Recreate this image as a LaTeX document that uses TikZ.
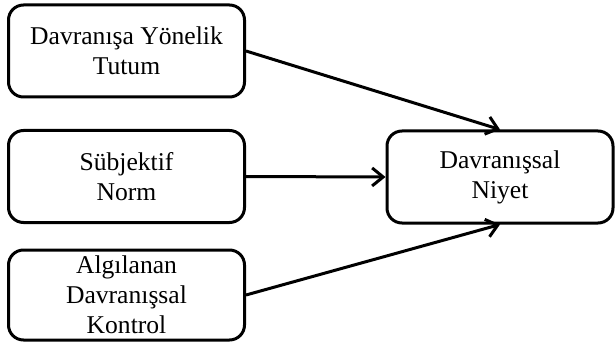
\documentclass[tikz,border=0pt]{standalone}
\usepackage{fontspec}
\setmainfont{Liberation Serif}
\usepackage{tikz}
\usetikzlibrary{arrows.meta, positioning}

\begin{document}
\begin{tikzpicture}[x=0.5pt, y=-0.5pt,
    factor/.style={draw, line width=1.5pt, rounded corners=7.5pt, align=center,
      font=\fontsize{12.8}{15}\selectfont, inner sep=0pt,
      minimum width=118pt, minimum height=46pt},
    link/.style={line width=1.5pt, -{Straight Barb[length=5.5pt, width=9pt, line width=1.5pt]}}]
    \useasboundingbox (0,0) rectangle (616,342);
    % three predictors on the left, intention on the right
    \node[factor] (tutum) at (126.5, 51) {Davranışa Yönelik\\Tutum};
    \node[factor] (norm) at (126.5, 176.5) {Sübjektif\\Norm};
    \node[factor, minimum height=45pt] (kontrol) at (126.5, 295) {Algılanan\\Davranışsal\\Kontrol};
    \node[factor, minimum width=113pt] (niyet) at (500, 177) {Davranışsal\\Niyet};
    \draw[link] (tutum.east) -- (niyet.north);
    \draw[link] (norm.east) -- (niyet.west);
    \draw[link] (kontrol.east) -- (niyet.south);
  \end{tikzpicture}
\end{document}
